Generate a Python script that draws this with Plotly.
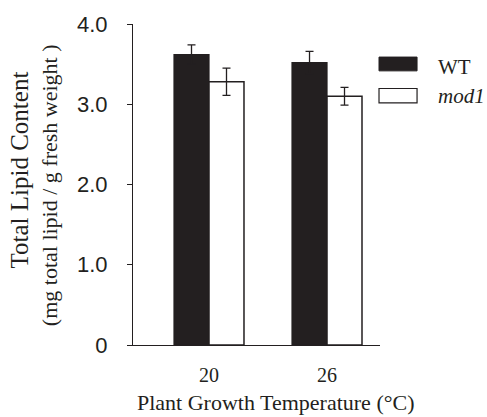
import plotly.graph_objects as go

categories = ["20", "26"]
series_names = ["WT", "<i>mod1</i>"]
wt_values = [3.62, 3.52]
wt_errors = [0.12, 0.14]
mod1_values = [3.28, 3.10]
mod1_errors = [0.17, 0.11]
y_ticks = [0, 1.0, 2.0, 3.0, 4.0]
y_tick_labels = ["0", "1.0", "2.0", "3.0", "4.0"]
y_title_lines = ["Total Lipid Content", "(mg total lipid / g fresh weight )"]
x_title = "Plant Growth Temperature (°C)"

SERIF = "Liberation Serif, Times New Roman, serif"
SANS = "Liberation Sans, Arial, sans-serif"
BLACK = "#231f20"

fig = go.Figure()
fig.add_trace(go.Bar(
    x=categories, y=wt_values, name=series_names[0],
    marker=dict(color=BLACK, line=dict(color=BLACK, width=1.2)),
    error_y=dict(type="data", array=wt_errors, color=BLACK, thickness=1.3, width=4),
    showlegend=False,
))
fig.add_trace(go.Bar(
    x=categories, y=mod1_values, name=series_names[1],
    marker=dict(color="white", line=dict(color=BLACK, width=1.5)),
    error_y=dict(type="data", array=mod1_errors, color=BLACK, thickness=1.3, width=4),
    showlegend=False,
))

fig.update_layout(
    width=487, height=417,
    margin=dict(l=133, r=107, t=16, b=72),
    paper_bgcolor="white", plot_bgcolor="white",
    barmode="group", bargap=0.407, bargroupgap=0,
    xaxis=dict(
        type="category", range=[-0.644, 1.449],
        showline=True, linecolor=BLACK, linewidth=1.2,
        ticks="", ticklabelstandoff=12,
        tickfont=dict(family=SERIF, size=20, color=BLACK),
        showgrid=False, zeroline=False,
    ),
    yaxis=dict(
        range=[0, 4.0], tickvals=y_ticks, ticktext=y_tick_labels,
        showline=True, linecolor=BLACK, linewidth=1.2,
        ticks="outside", ticklen=5, tickcolor=BLACK, tickwidth=1.2,
        ticklabelstandoff=15,
        tickfont=dict(family=SANS, size=22, color=BLACK),
        showgrid=False, zeroline=False,
    ),
    annotations=[
        dict(text=y_title_lines[0],
             xref="paper", yref="paper", x=-0.461, y=0.544,
             xanchor="center", yanchor="middle", textangle=-90, showarrow=False,
             font=dict(family=SERIF, size=25, color=BLACK)),
        dict(text=y_title_lines[1],
             xref="paper", yref="paper", x=-0.340, y=0.498,
             xanchor="center", yanchor="middle", textangle=-90, showarrow=False,
             font=dict(family=SERIF, size=22, color=BLACK)),
        dict(text=x_title, xref="paper", yref="paper", x=0.579, y=-0.178,
             xanchor="center", yanchor="middle", showarrow=False,
             font=dict(family=SERIF, size=22, color=BLACK)),
        dict(text=series_names[0], xref="paper", yref="paper", x=1.227, y=0.866,
             xanchor="left", yanchor="middle", showarrow=False,
             font=dict(family=SERIF, size=21, color=BLACK)),
        dict(text=series_names[1], xref="paper", yref="paper", x=1.227, y=0.775,
             xanchor="left", yanchor="middle", showarrow=False,
             font=dict(family=SERIF, size=21, color=BLACK)),
    ],
    shapes=[
        dict(type="rect", xref="paper", yref="paper", x0=0.996, x1=1.150, y0=0.854, y1=0.897,
             fillcolor=BLACK, line=dict(color=BLACK, width=1)),
        dict(type="rect", xref="paper", yref="paper", x0=0.996, x1=1.150, y0=0.754, y1=0.799,
             fillcolor="white", line=dict(color=BLACK, width=1.2)),
    ],
)

fig.write_html(
    "out.html",
    config={"displayModeBar": False},
    post_script="document.body.style.margin='0';document.body.style.overflow='hidden';",
)
